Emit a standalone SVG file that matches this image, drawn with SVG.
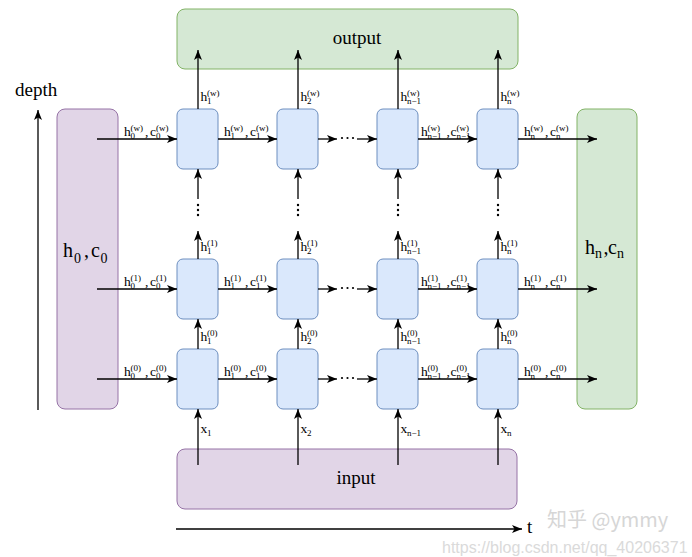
<svg xmlns="http://www.w3.org/2000/svg" width="692" height="557" viewBox="0 0 692 557">
<style>
text{font-family:"Liberation Serif","Times New Roman",serif;fill:#000}
.m{font-size:13.5px}
.s{font-size:9px}
.big{font-size:20px}
.bs{font-size:14px}
.lbl{font-size:19px}
.cell{fill:#dae8fc;stroke:#6c8ebf;stroke-width:1}
.grn{fill:#d5e8d4;stroke:#82b366;stroke-width:1}
.pur{fill:#e1d5e7;stroke:#9673a6;stroke-width:1}
.c{fill:none;stroke:#000;stroke-width:1.3;marker-end:url(#a)}
.wm{font-family:"Liberation Sans",Arial,sans-serif;fill:#dadada;font-size:16px}
</style>
<defs>
<marker id="a" markerUnits="userSpaceOnUse" markerWidth="10" markerHeight="8" refX="10" refY="4" orient="auto">
<path d="M0,0 L10,4 L0,8 L2.5,4 Z" fill="#000"/>
</marker>
</defs>

<g id="output"><rect class="grn" x="177" y="9" width="341" height="60" rx="8"/><text class="lbl" x="357" y="44" text-anchor="middle">output</text></g>
<g id="input"><rect class="pur" x="177" y="449" width="340" height="60" rx="8"/><text class="lbl" x="356" y="484" text-anchor="middle">input</text></g>
<g id="init"><rect class="pur" x="57" y="109" width="61" height="300" rx="8"/>
<text class="big"><tspan x="63" y="257">h</tspan><tspan class="bs" x="74" y="263">0</tspan><tspan x="84" y="257">,</tspan><tspan x="91" y="257">c</tspan><tspan class="bs" x="100.5" y="263">0</tspan></text></g>
<g id="final"><rect class="grn" x="577" y="109" width="60" height="300" rx="8"/>
<text class="big"><tspan x="585" y="254">h</tspan><tspan class="bs" x="595" y="258">n</tspan><tspan x="603.5" y="254">,</tspan><tspan x="608" y="254">c</tspan><tspan class="bs" x="617" y="258">n</tspan></text></g>

<g id="cells">
<rect id="cell-w-1" class="cell" x="177" y="109" width="41" height="60" rx="6"/>
<rect id="cell-w-2" class="cell" x="277" y="109" width="41" height="60" rx="6"/>
<rect id="cell-w-n1" class="cell" x="377" y="109" width="41" height="60" rx="6"/>
<rect id="cell-w-n" class="cell" x="477" y="109" width="41" height="60" rx="6"/>
<rect id="cell-1-1" class="cell" x="177" y="259" width="41" height="60" rx="6"/>
<rect id="cell-1-2" class="cell" x="277" y="259" width="41" height="60" rx="6"/>
<rect id="cell-1-n1" class="cell" x="377" y="259" width="41" height="60" rx="6"/>
<rect id="cell-1-n" class="cell" x="477" y="259" width="41" height="60" rx="6"/>
<rect id="cell-0-1" class="cell" x="177" y="349" width="41" height="60" rx="6"/>
<rect id="cell-0-2" class="cell" x="277" y="349" width="41" height="60" rx="6"/>
<rect id="cell-0-n1" class="cell" x="377" y="349" width="41" height="60" rx="6"/>
<rect id="cell-0-n" class="cell" x="477" y="349" width="41" height="60" rx="6"/>
</g>

<g id="connectors">
<path class="c" d="M97,139H177"/><path class="c" d="M218,139H277"/><path class="c" d="M318,139H337"/><path class="c" d="M357,139H377"/><path class="c" d="M418,139H477"/><path class="c" d="M518,139H597"/>
<path class="c" d="M97,289H177"/><path class="c" d="M218,289H277"/><path class="c" d="M318,289H337"/><path class="c" d="M357,289H377"/><path class="c" d="M418,289H477"/><path class="c" d="M518,289H597"/>
<path class="c" d="M97,379H177"/><path class="c" d="M218,379H277"/><path class="c" d="M318,379H337"/><path class="c" d="M357,379H377"/><path class="c" d="M418,379H477"/><path class="c" d="M518,379H597"/>
<path class="c" d="M198,465V409"/><path class="c" d="M298,465V409"/><path class="c" d="M398,465V409"/><path class="c" d="M498,465V409"/>
<path class="c" d="M198,349V319"/><path class="c" d="M298,349V319"/><path class="c" d="M398,349V319"/><path class="c" d="M498,349V319"/>
<path class="c" d="M198,259V231"/><path class="c" d="M298,259V231"/><path class="c" d="M398,259V231"/><path class="c" d="M498,259V231"/>
<path class="c" d="M198,199V169"/><path class="c" d="M298,199V169"/><path class="c" d="M398,199V169"/><path class="c" d="M498,199V169"/>
<path class="c" d="M198,109V50"/><path class="c" d="M298,109V50"/><path class="c" d="M398,109V50"/><path class="c" d="M498,109V50"/>
<path class="c" d="M38,410V110"/>
<path class="c" d="M176,529H522"/>
</g>

<g id="dots" fill="#000">
<circle cx="342" cy="138" r="1.1"/><circle cx="347.5" cy="138" r="1.1"/><circle cx="353" cy="138" r="1.1"/>
<circle cx="342" cy="288" r="1.1"/><circle cx="347.5" cy="288" r="1.1"/><circle cx="353" cy="288" r="1.1"/>
<circle cx="342" cy="378" r="1.1"/><circle cx="347.5" cy="378" r="1.1"/><circle cx="353" cy="378" r="1.1"/>
<circle cx="198" cy="205" r="1.2"/><circle cx="198" cy="210" r="1.2"/><circle cx="198" cy="215" r="1.2"/>
<circle cx="298" cy="205" r="1.2"/><circle cx="298" cy="210" r="1.2"/><circle cx="298" cy="215" r="1.2"/>
<circle cx="398" cy="205" r="1.2"/><circle cx="398" cy="210" r="1.2"/><circle cx="398" cy="215" r="1.2"/>
<circle cx="498" cy="205" r="1.2"/><circle cx="498" cy="210" r="1.2"/><circle cx="498" cy="215" r="1.2"/>
</g>

<g id="labels-horizontal">
<text class="m"><tspan x="124" y="136">h</tspan><tspan class="s" x="130.5" y="130.5">(w)</tspan><tspan class="s" x="130.5" y="139.3">0</tspan><tspan x="145" y="136">,</tspan><tspan x="150" y="136">c</tspan><tspan class="s" x="156" y="130.5">(w)</tspan><tspan class="s" x="156" y="139.3">0</tspan></text>
<text class="m"><tspan x="224" y="136">h</tspan><tspan class="s" x="230.5" y="130.5">(w)</tspan><tspan class="s" x="230.5" y="139.3">1</tspan><tspan x="245" y="136">,</tspan><tspan x="250" y="136">c</tspan><tspan class="s" x="256" y="130.5">(w)</tspan><tspan class="s" x="256" y="139.3">1</tspan></text>
<text class="m"><tspan x="421" y="136">h</tspan><tspan class="s" x="427.5" y="130.5">(w)</tspan><tspan class="s" x="427.5" y="139.3">n−1</tspan><tspan x="446.5" y="136">,</tspan><tspan x="450.5" y="136">c</tspan><tspan class="s" x="456.5" y="130.5">(w)</tspan><tspan class="s" x="456.5" y="139.3">n−1</tspan></text>
<text class="m"><tspan x="524" y="136">h</tspan><tspan class="s" x="530.5" y="130.5">(w)</tspan><tspan class="s" x="530.5" y="139.3">n</tspan><tspan x="545" y="136">,</tspan><tspan x="550" y="136">c</tspan><tspan class="s" x="556" y="130.5">(w)</tspan><tspan class="s" x="556" y="139.3">n</tspan></text>

<text class="m"><tspan x="124" y="286">h</tspan><tspan class="s" x="130.5" y="280.5">(1)</tspan><tspan class="s" x="130.5" y="289.3">0</tspan><tspan x="145" y="286">,</tspan><tspan x="150" y="286">c</tspan><tspan class="s" x="156" y="280.5">(1)</tspan><tspan class="s" x="156" y="289.3">0</tspan></text>
<text class="m"><tspan x="224" y="286">h</tspan><tspan class="s" x="230.5" y="280.5">(1)</tspan><tspan class="s" x="230.5" y="289.3">1</tspan><tspan x="245" y="286">,</tspan><tspan x="250" y="286">c</tspan><tspan class="s" x="256" y="280.5">(1)</tspan><tspan class="s" x="256" y="289.3">1</tspan></text>
<text class="m"><tspan x="421" y="286">h</tspan><tspan class="s" x="427.5" y="280.5">(1)</tspan><tspan class="s" x="427.5" y="289.3">n−1</tspan><tspan x="446.5" y="286">,</tspan><tspan x="450.5" y="286">c</tspan><tspan class="s" x="456.5" y="280.5">(1)</tspan><tspan class="s" x="456.5" y="289.3">n−1</tspan></text>
<text class="m"><tspan x="524" y="286">h</tspan><tspan class="s" x="530.5" y="280.5">(1)</tspan><tspan class="s" x="530.5" y="289.3">n</tspan><tspan x="545" y="286">,</tspan><tspan x="550" y="286">c</tspan><tspan class="s" x="556" y="280.5">(1)</tspan><tspan class="s" x="556" y="289.3">n</tspan></text>

<text class="m"><tspan x="124" y="376">h</tspan><tspan class="s" x="130.5" y="370.5">(0)</tspan><tspan class="s" x="130.5" y="379.3">0</tspan><tspan x="145" y="376">,</tspan><tspan x="150" y="376">c</tspan><tspan class="s" x="156" y="370.5">(0)</tspan><tspan class="s" x="156" y="379.3">0</tspan></text>
<text class="m"><tspan x="224" y="376">h</tspan><tspan class="s" x="230.5" y="370.5">(0)</tspan><tspan class="s" x="230.5" y="379.3">1</tspan><tspan x="245" y="376">,</tspan><tspan x="250" y="376">c</tspan><tspan class="s" x="256" y="370.5">(0)</tspan><tspan class="s" x="256" y="379.3">1</tspan></text>
<text class="m"><tspan x="421" y="376">h</tspan><tspan class="s" x="427.5" y="370.5">(0)</tspan><tspan class="s" x="427.5" y="379.3">n−1</tspan><tspan x="446.5" y="376">,</tspan><tspan x="450.5" y="376">c</tspan><tspan class="s" x="456.5" y="370.5">(0)</tspan><tspan class="s" x="456.5" y="379.3">n−1</tspan></text>
<text class="m"><tspan x="524" y="376">h</tspan><tspan class="s" x="530.5" y="370.5">(0)</tspan><tspan class="s" x="530.5" y="379.3">n</tspan><tspan x="545" y="376">,</tspan><tspan x="550" y="376">c</tspan><tspan class="s" x="556" y="370.5">(0)</tspan><tspan class="s" x="556" y="379.3">n</tspan></text>
</g>

<g id="labels-vertical">
<text class="m"><tspan x="200.5" y="101">h</tspan><tspan class="s" x="207" y="95.5">(w)</tspan><tspan class="s" x="207" y="104.3">1</tspan></text>
<text class="m"><tspan x="300.5" y="101">h</tspan><tspan class="s" x="307" y="95.5">(w)</tspan><tspan class="s" x="307" y="104.3">2</tspan></text>
<text class="m"><tspan x="400.5" y="101">h</tspan><tspan class="s" x="407" y="95.5">(w)</tspan><tspan class="s" x="407" y="104.3">n−1</tspan></text>
<text class="m"><tspan x="500.5" y="101">h</tspan><tspan class="s" x="507" y="95.5">(w)</tspan><tspan class="s" x="507" y="104.3">n</tspan></text>

<text class="m"><tspan x="200.5" y="251">h</tspan><tspan class="s" x="207" y="245.5">(1)</tspan><tspan class="s" x="207" y="254.3">1</tspan></text>
<text class="m"><tspan x="300.5" y="251">h</tspan><tspan class="s" x="307" y="245.5">(1)</tspan><tspan class="s" x="307" y="254.3">2</tspan></text>
<text class="m"><tspan x="400.5" y="251">h</tspan><tspan class="s" x="407" y="245.5">(1)</tspan><tspan class="s" x="407" y="254.3">n−1</tspan></text>
<text class="m"><tspan x="500.5" y="251">h</tspan><tspan class="s" x="507" y="245.5">(1)</tspan><tspan class="s" x="507" y="254.3">n</tspan></text>

<text class="m"><tspan x="200.5" y="341">h</tspan><tspan class="s" x="207" y="335.5">(0)</tspan><tspan class="s" x="207" y="344.3">1</tspan></text>
<text class="m"><tspan x="300.5" y="341">h</tspan><tspan class="s" x="307" y="335.5">(0)</tspan><tspan class="s" x="307" y="344.3">2</tspan></text>
<text class="m"><tspan x="400.5" y="341">h</tspan><tspan class="s" x="407" y="335.5">(0)</tspan><tspan class="s" x="407" y="344.3">n−1</tspan></text>
<text class="m"><tspan x="500.5" y="341">h</tspan><tspan class="s" x="507" y="335.5">(0)</tspan><tspan class="s" x="507" y="344.3">n</tspan></text>

<text class="m"><tspan x="200.5" y="433">x</tspan><tspan class="s" x="207" y="435.5">1</tspan></text>
<text class="m"><tspan x="300.5" y="433">x</tspan><tspan class="s" x="307" y="435.5">2</tspan></text>
<text class="m"><tspan x="400.5" y="433">x</tspan><tspan class="s" x="407" y="435.5">n−1</tspan></text>
<text class="m"><tspan x="500.5" y="433">x</tspan><tspan class="s" x="507" y="435.5">n</tspan></text>
</g>

<g id="axes-labels">
<text class="lbl" x="15" y="96">depth</text>
<text class="lbl" x="527" y="533">t</text>
</g>

<g id="watermark">
<text x="547" y="527" style="font-family:'Noto Sans CJK SC','Liberation Sans',sans-serif;font-size:20px;fill:#d6d6d6">知乎 @ymmy</text>
<text class="wm" x="442" y="553">https://blog.csdn.net/qq_40206371</text>
</g>
</svg>
